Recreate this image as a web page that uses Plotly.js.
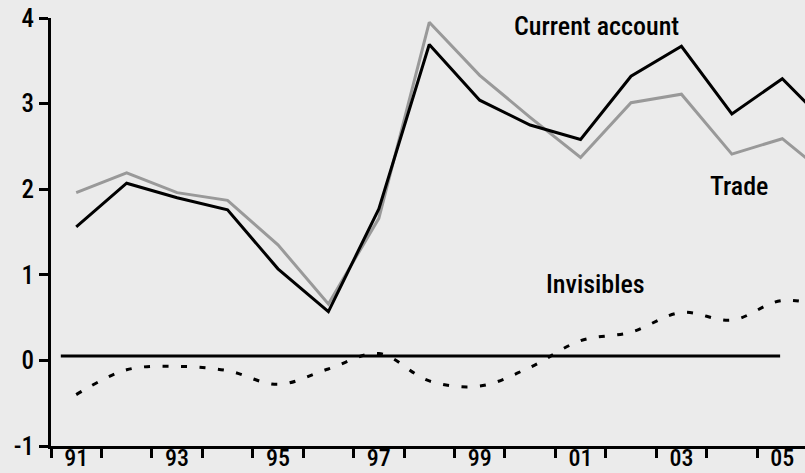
<!DOCTYPE html>
<html>
<head>
<meta charset="utf-8">
<script src="https://cdn.plot.ly/plotly-3.0.1.min.js"></script>
<style>html,body{margin:0;padding:0;background:#ebebeb;}#chart{width:805px;height:473px;}</style>
</head>
<body>
<div id="chart"></div>
<script>
const years = [1991,1992,1993,1994,1995,1996,1997,1998,1999,2000,2001,2002,2003,2004,2005,2006];
const currentAccount = [1.56,2.07,1.90,1.76,1.07,0.57,1.77,3.69,3.04,2.75,2.58,3.32,3.67,2.88,3.29,2.70];
const trade = [1.96,2.19,1.96,1.87,1.35,0.66,1.66,3.95,3.33,2.84,2.37,3.01,3.11,2.41,2.59,2.11];
const invisibles = [-0.40,-0.11,-0.07,-0.12,-0.28,-0.10,0.08,-0.24,-0.30,-0.08,0.23,0.33,0.56,0.47,0.70,0.60];
const yTicks = [-1,0,1,2,3,4];
const yTickText = ['-1','0','1','2','3','4'];
const xLabelYears = [1991,1993,1995,1997,1999,2001,2003,2005];
const xLabelText = ['91','93','95','97','99','01','03','05'];
const xTickYears = [1990.5,1991.5,1992.5,1993.5,1994.5,1995.5,1996.5,1997.5,1998.5,1999.5,2000.5,2001.5,2002.5,2003.5,2004.5,2005.5];

const FONT = '"Roboto Condensed", "Liberation Sans Narrow", sans-serif';
const TICKF = {family: FONT, size: 25, color: '#000', weight: 500};
const XTICKF = {family: FONT, size: 24, color: '#000', weight: 500};
const LABF = {family: FONT, size: 26, color: '#000', weight: 500};

const traces = [
  {x: years, y: trade, type: 'scatter', mode: 'lines', name: 'Trade',
   line: {color: '#999999', width: 3}},
  {x: years, y: currentAccount, type: 'scatter', mode: 'lines', name: 'Current account',
   line: {color: '#000000', width: 3}},
  {x: years, y: invisibles, type: 'scatter', mode: 'lines', name: 'Invisibles',
   line: {color: '#000000', width: 3, dash: '6px,12.5px', shape: 'spline', smoothing: 1}},
  {x: xLabelYears, y: xLabelYears.map(() => null), xaxis: 'x2', type: 'scatter', mode: 'lines',
   showlegend: false, hoverinfo: 'skip'}
];

const layout = {
  width: 805, height: 473,
  margin: {l: 51, r: 0, t: 18, b: 27, pad: 0},
  paper_bgcolor: '#ebebeb', plot_bgcolor: '#ebebeb',
  showlegend: false,
  font: TICKF,
  xaxis: {
    range: [1990.5, 2005.45], showgrid: false, zeroline: false,
    showline: true, linecolor: '#000', linewidth: 3,
    tickmode: 'array', tickvals: xTickYears, showticklabels: false,
    ticks: 'outside', ticklen: 9, tickwidth: 3, tickcolor: '#000'
  },
  xaxis2: {
    overlaying: 'x', matches: 'x', side: 'bottom', anchor: 'y',
    range: [1990.5, 2005.45], showgrid: false, zeroline: false, showline: false,
    tickmode: 'array', tickvals: xLabelYears, ticktext: xLabelText,
    ticks: '', tickfont: XTICKF, ticklabelstandoff: -5
  },
  yaxis: {
    range: [-1, 4], showgrid: false, zeroline: false,
    showline: true, linecolor: '#000', linewidth: 3,
    tickmode: 'array', tickvals: yTicks, ticktext: yTickText,
    ticks: 'outside', ticklen: 9, tickwidth: 3, tickcolor: '#000',
    tickfont: TICKF
  },
  shapes: [
    {type: 'line', xref: 'paper', yref: 'y', x0: 0.013, x1: 0.967, y0: 0.05, y1: 0.05,
     line: {color: '#000', width: 3}}
  ],
  annotations: [
    {text: 'Current account', xref: 'paper', yref: 'paper', x: 0.723, y: 0.981,
     xanchor: 'center', yanchor: 'middle', showarrow: false, font: LABF},
    {text: 'Trade', xref: 'paper', yref: 'paper', x: 0.9126, y: 0.6075,
     xanchor: 'center', yanchor: 'middle', showarrow: false, font: LABF},
    {text: 'Invisibles', xref: 'paper', yref: 'paper', x: 0.7219, y: 0.3785,
     xanchor: 'center', yanchor: 'middle', showarrow: false, font: LABF}
  ]
};

Plotly.newPlot('chart', traces, layout, {displayModeBar: false, staticPlot: true});
</script>
</body>
</html>
